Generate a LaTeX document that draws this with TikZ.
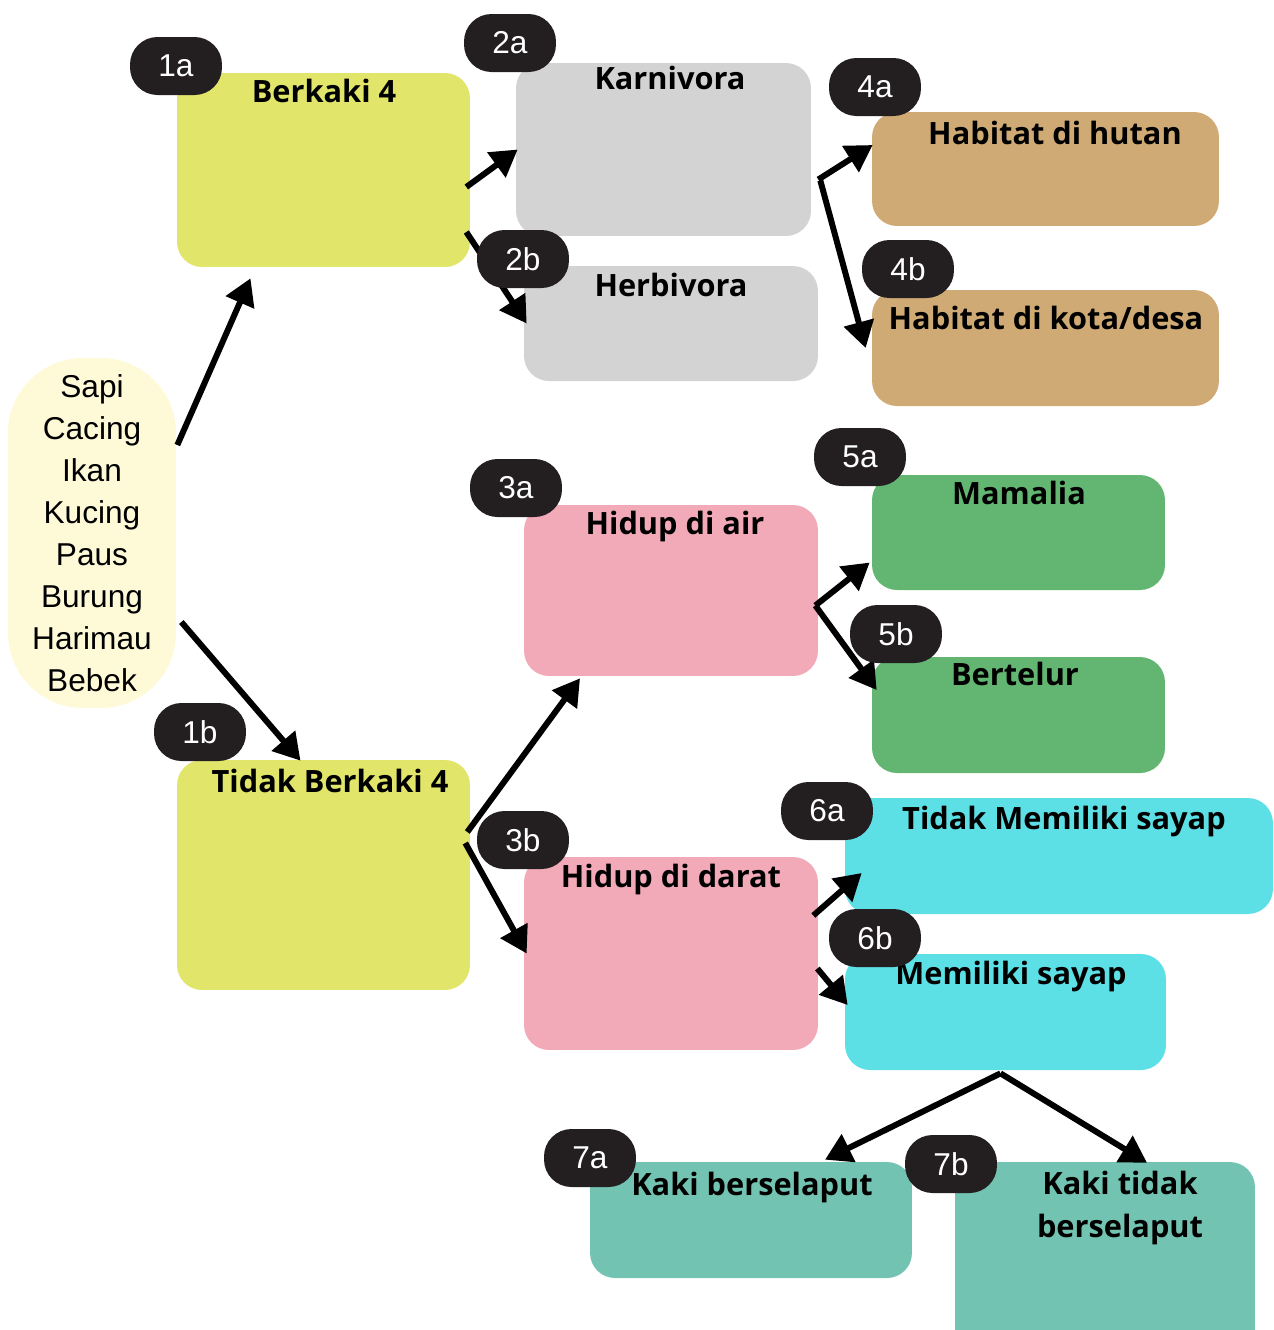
\documentclass[tikz,border=0pt]{standalone}
\usepackage{fontspec}
\usepackage{tikz}
\usetikzlibrary{calc, arrows.meta}
\newfontfamily\judulfont{Open Sans}
\newfontfamily\isifont{Liberation Sans}
\definecolor{krem}{HTML}{FEF9D7}
\definecolor{limau}{HTML}{E1E56A}
\definecolor{abu}{HTML}{D3D3D3}
\definecolor{coklat}{HTML}{CFAA74}
\definecolor{merahmuda}{HTML}{F2A9B8}
\definecolor{hijau}{HTML}{63B672}
\definecolor{sian}{HTML}{5CE0E6}
\definecolor{toska}{HTML}{72C3B1}
\definecolor{hitam}{HTML}{231F20}
\tikzstyle{box}   = [rectangle, rounded corners=0.5cm, inner sep=0pt]
\tikzstyle{judul} = [anchor=base, inner sep=0pt, align=center, font=\judulfont\bfseries\fontsize{17.5}{24}\selectfont]
\tikzstyle{badge} = [rectangle, rounded corners=0.55cm, minimum width=1.84cm, minimum height=1.16cm, fill=hitam, text=white, font=\isifont\fontsize{18}{20}\selectfont]
\tikzstyle{arrow} = [line width=3.4pt, -{Triangle[length=15pt, width=17pt]}]

\begin{document}
\begin{tikzpicture}[x=0.02cm, y=-0.02cm]
      \useasboundingbox (0,0) rectangle (1274,1330);
      \clip (0,0) rectangle (1274,1330);

      % boxes
      \node (src)     [box, fill=krem, rounded corners=1.5cm, minimum width=3.36cm, minimum height=7cm, align=center,
                       font=\isifont\fontsize{18}{23.9}\selectfont] at (92,533)
                       {Sapi\\Cacing\\Ikan\\Kucing\\Paus\\Burung\\Harimau\\Bebek};
      \node (berkaki) [box, fill=limau, minimum width=5.86cm, minimum height=3.88cm] at (323.5,170) {};
      \node (karni)   [box, fill=abu, minimum width=5.9cm, minimum height=3.46cm] at (663.5,149.5) {};
      \node (herbi)   [box, fill=abu, minimum width=5.88cm, minimum height=2.3cm] at (671,323.5) {};
      \node (hutan)   [box, fill=coklat, minimum width=6.94cm, minimum height=2.28cm] at (1045.5,169) {};
      \node (kota)    [box, fill=coklat, minimum width=6.94cm, minimum height=2.32cm] at (1045.5,348) {};
      \node (tberkaki)[box, fill=limau, minimum width=5.86cm, minimum height=4.6cm] at (323.5,875) {};
      \node (air)     [box, fill=merahmuda, minimum width=5.88cm, minimum height=3.42cm] at (671,590.5) {};
      \node (darat)   [box, fill=merahmuda, minimum width=5.88cm, minimum height=3.86cm] at (671,953.5) {};
      \node (mamalia) [box, fill=hijau, minimum width=5.86cm, minimum height=2.3cm] at (1018.5,532.5) {};
      \node (telur)   [box, fill=hijau, minimum width=5.86cm, minimum height=2.32cm] at (1018.5,715) {};
      \node (tsayap)  [box, fill=sian, minimum width=8.56cm, minimum height=2.32cm] at (1059,856) {};
      \node (sayap)   [box, fill=sian, minimum width=6.42cm, minimum height=2.32cm] at (1005.5,1012) {};
      \node (selaput) [box, fill=toska, minimum width=6.44cm, minimum height=2.32cm] at (751,1220) {};
      \node (tselaput)[box, fill=toska, minimum width=6cm, minimum height=3.96cm] at (1105,1261) {};

      % titles
      \node (j1a) [judul] at (324,102)  {Berkaki 4};
      \node (j2a) [judul] at (670,89)   {Karnivora};
      \node (j2b) [judul] at (671,296)  {Herbivora};
      \node (j4a) [judul] at (1055,144) {Habitat di hutan};
      \node (j4b) [judul] at (1046,329) {Habitat di kota/desa};
      \node (j1b) [judul] at (330,792)  {Tidak Berkaki 4};
      \node (j3a) [judul] at (675,534)  {Hidup di air};
      \node (j3b) [judul] at (671,887)  {Hidup di darat};
      \node (j5a) [judul] at (1019,504) {Mamalia};
      \node (j5b) [judul] at (1015,685) {Bertelur};
      \node (j6a) [judul] at (1064,829) {Tidak Memiliki sayap};
      \node (j6b) [judul] at (1011,984) {Memiliki sayap};
      \node (j7a) [judul] at (752,1195) {Kaki berselaput};
      \node (j7b) [judul] at (1120,1237) {Kaki tidak\\berselaput};

      % arrows
      \draw [arrow] ($(src.east)+(1,-88)$) -- ($(berkaki.south)+(-73,11)$);
      \draw [arrow] ($(src.east)+(5,89)$) -- ($(tberkaki.north)+(-23,1)$);
      \draw [arrow] ($(berkaki.east)+(-4,17)$) -- ($(karni.west)+(2,0)$);
      \draw [arrow] ($(berkaki.east)+(-4,62)$) -- ($(herbi.west)+(3,0)$);
      \draw [arrow] ($(karni.east)+(7,30)$) -- ($(hutan.west)+(1,-24)$);
      \draw [arrow] ($(karni.east)+(9,31)$) -- ($(kota.west)+(-6,0)$);
      \draw [arrow] ($(tberkaki.east)+(-3,-43)$) -- ($(air.south)+(-91,2)$);
      \draw [arrow] ($(tberkaki.east)+(-5,-32)$) -- ($(darat.west)+(3,0)$);
      \draw [arrow] ($(air.east)+(-3,15)$) -- ($(mamalia.west)+(-2,30)$);
      \draw [arrow] ($(air.east)+(-3,15)$) -- ($(telur.west)+(5,-25)$);
      \draw [arrow] ($(darat.east)+(-5,-38)$) -- ($(tsayap.west)+(17,17)$);
      \draw [arrow] ($(darat.east)+(-1,15)$) -- ($(sayap.west)+(3,-7)$);
      \draw [arrow] ($(sayap.south)+(-5,3)$) -- ($(selaput.north)+(74,-2)$);
      \draw [arrow] ($(sayap.south)+(-5,3)$) -- ($(tselaput.north)+(42,1)$);

      % badges
      \node (b1a) [badge] at (176,66)   {1a};
      \node (b2a) [badge] at (510,43)   {2a};
      \node (b2b) [badge] at (523,259)  {2b};
      \node (b4a) [badge] at (875,87)   {4a};
      \node (b4b) [badge] at (908,269)  {4b};
      \node (b3a) [badge] at (516,488)  {3a};
      \node (b5a) [badge] at (860,457)  {5a};
      \node (b5b) [badge] at (896,634)  {5b};
      \node (b1b) [badge] at (200,732)  {1b};
      \node (b3b) [badge] at (523,840)  {3b};
      \node (b6a) [badge] at (827,811)  {6a};
      \node (b6b) [badge] at (875,938)  {6b};
      \node (b7a) [badge] at (590,1158) {7a};
      \node (b7b) [badge] at (951,1164) {7b};

    \end{tikzpicture}
\end{document}
